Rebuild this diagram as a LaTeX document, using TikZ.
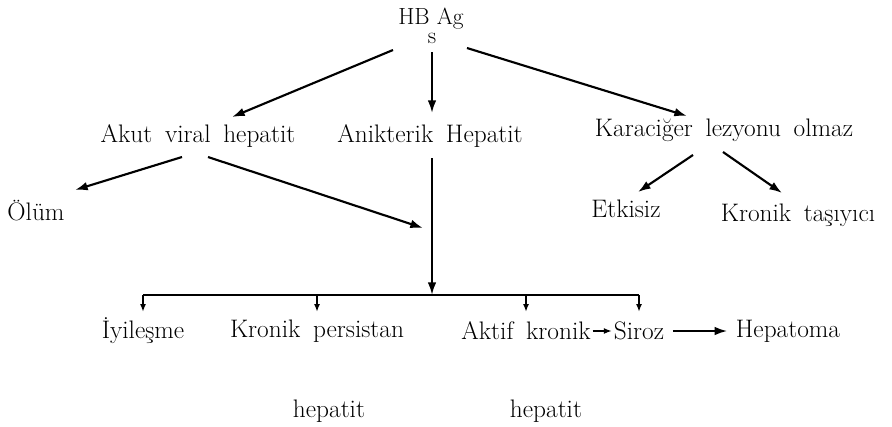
\documentclass[tikz,border=0pt]{standalone}
\usetikzlibrary{arrows.meta}

\newcommand\lblfont{\fontsize{19}{22}\selectfont\spaceskip 0.5em plus 0.1em\relax}
\tikzset{every picture/.style={line width=1.6pt}}
\tikzset{
  lbl/.style={inner sep=0.75pt, font=\lblfont},
  top/.style={anchor=base, inner sep=0pt, font=\fontsize{17.5}{20}\selectfont},
  arr/.style={-{Latex[length=9.5pt,width=6.5pt]}},
  tick/.style={line width=1.3pt,-{Latex[length=6pt,width=4.5pt]}},
}

\begin{document}
\begin{tikzpicture}[x=0.75pt,y=0.75pt,yscale=-1,xscale=1]
\useasboundingbox (0,0) rectangle (892,426);

% Text Node
\draw (431,24) node [top] (hbag) {HB Ag};
% Text Node
\draw (432,43) node [top] (hbs) {s};
% Text Node
\draw (198,136) node [lbl] (akut) {Akut viral hepatit};
% Text Node
\draw (430,136) node [lbl] (anik) {Anikterik Hepatit};
% Text Node
\draw (724,130) node [lbl] (kara) {Karaciğer lezyonu olmaz};
% Text Node
\draw (36,211) node [lbl] (olum) {Ölüm};
% Text Node
\draw (626,209) node [lbl] (etk) {Etkisiz};
% Text Node
\draw (798,215) node [lbl] (kron) {Kronik taşıyıcı};
% Text Node
\draw (143,331) node [lbl] (iyi) {İyileşme};
% Text Node
\draw (317,331) node [lbl] (kper) {Kronik persistan};
% Text Node
\draw (526,331) node [lbl] (aktif) {Aktif kronik};
% Text Node
\draw (639,331) node [lbl] (siroz) {Siroz};
% Text Node
\draw (788,331) node [lbl] (hepa) {Hepatoma};
% Text Node
\draw (329,411) node [lbl] (hepkp) {hepatit};
% Text Node
\draw (546,411) node [lbl] (hepak) {hepatit};

\coordinate (join) at (432,228);
\coordinate (bar) at (432,295);

% Straight Lines
\draw [arr] ([shift={(-38,26)}]hbag.base) -- ([shift={(34,-19)}]akut.center);
\draw [arr] (hbs.center |- 0,52) -- (hbs.center |- 0,113);
\draw [arr] ([shift={(36,24)}]hbag.base) -- ([shift={(-37,-14)}]kara.center);
\draw [arr] ([shift={(-16,21)}]akut.center) -- ([shift={(39,-21)}]olum.center);
\draw [arr] ([shift={(10,21)}]akut.center) -- ([shift={(-9,0)}]join);
\draw [arr] ([shift={(-31,25)}]kara.center) -- ([shift={(12,-17)}]etk.center);
\draw [arr] ([shift={(-1,22)}]kara.center) -- ([shift={(-16,-22)}]kron.center);
\draw [arr] (join |- 0,158) -- (bar);

% Bracket
\draw [line width=1.3pt] (bar -| iyi) -- (bar -| siroz);
\draw [tick] (bar -| iyi) -- ([shift={(0,-19)}]iyi.center);
\draw [tick] (bar -| kper) -- ([shift={(0,-19)}]kper.center);
\draw [tick] (bar -| aktif) -- ([shift={(0,-19)}]aktif.center);
\draw [tick] (bar -| siroz) -- ([shift={(0,-19)}]siroz.center);

\draw [tick] (aktif.east) -- (siroz.west);
\draw [arr,line width=1.4pt,shorten <=5pt,shorten >=5pt] (siroz.east) -- (siroz.east -| hepa.west);

\end{tikzpicture}
\end{document}
